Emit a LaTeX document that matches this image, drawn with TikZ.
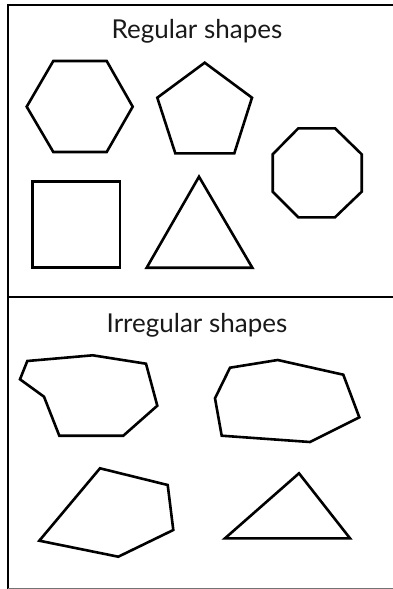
\documentclass[tikz,border=0pt]{standalone}
\usepackage{fontspec}
\setmainfont{Lato}
\begin{document}
\begin{tikzpicture}[x=1pt,y=-1pt,
  shp/.style={draw=black,line width=2.6pt,line join=miter},
  frame/.style={draw=black,line width=2.6pt},
  title/.style={font=\fontsize{26}{30}\selectfont,text=black!90,inner sep=0pt,anchor=base}]
\useasboundingbox (0,0) rectangle (393,589);
% frame
\draw[frame] (393,5) -- (8,5) -- (8,589);
\draw[frame] (8,297) -- (393,297);
\draw[draw=black!55,line width=1pt] (8,588.5) -- (393,588.5);
% titles
\node[title] (reg) at (197,38) {Regular shapes};
\node[title] (irr) at (197,332) {Irregular shapes};
% regular shapes
\draw[shp] (53.3,61) -- (106.7,61) -- (132.7,106.7) -- (106.7,152) -- (53.3,152) -- (26.7,106.7) -- cycle;
\draw[shp] (204.7,62.7) -- (252,97.7) -- (234.3,153.3) -- (175.3,153.3) -- (157.3,97.7) -- cycle;
\draw[shp] (298.3,128.3) -- (335,128.3) -- (361.7,154.3) -- (361.7,191.7) -- (335,217.3) -- (298.3,217.3) -- (272.7,191.7) -- (272.7,154.3) -- cycle;
\draw[shp] (32.7,181.7) rectangle (120,267.7);
\draw[shp] (199,176.7) -- (252.3,267.7) -- (146.7,267.7) -- cycle;
% irregular shapes
\draw[shp] (27.3,361) -- (92.7,355.3) -- (146,363.7) -- (157.3,405.7) -- (123.3,435.7) -- (59.3,435.7) -- (44,396.7) -- (20,379.3) -- cycle;
\draw[shp] (230,367.7) -- (277.7,360) -- (343.3,374.7) -- (359.3,417.3) -- (310,442) -- (221.7,435.7) -- (215,398.3) -- cycle;
\draw[shp] (100,468.3) -- (167.7,485) -- (173.3,530) -- (118.3,556.7) -- (39.3,540.7) -- cycle;
\draw[shp] (299,473.3) -- (350,538.3) -- (225,538.3) -- cycle;
\end{tikzpicture}
\end{document}
